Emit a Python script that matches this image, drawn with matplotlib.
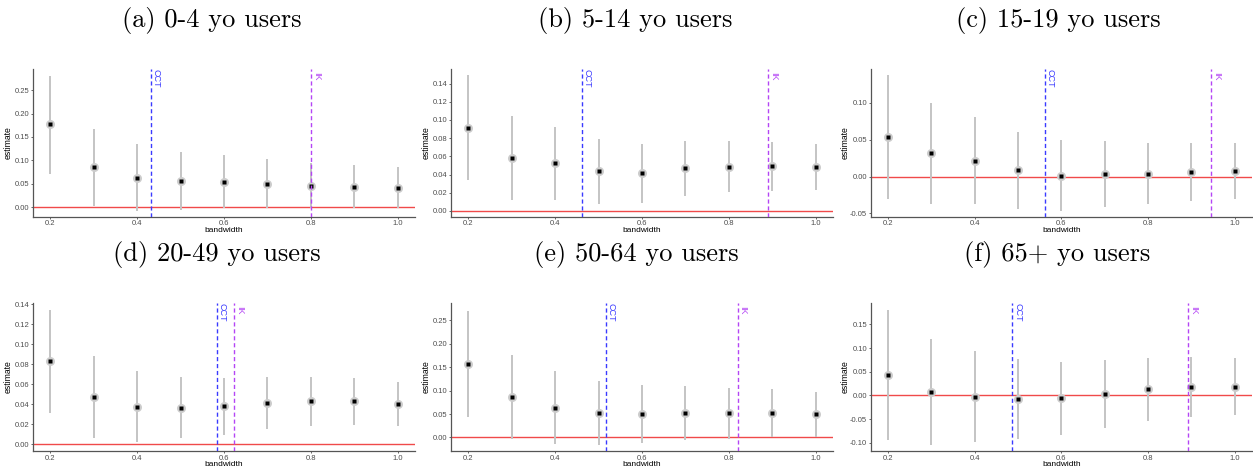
import matplotlib
matplotlib.use("Agg")
import matplotlib.pyplot as plt

bandwidth = [0.2, 0.3, 0.4, 0.5, 0.6, 0.7, 0.8, 0.9, 1.0]

titles = ["(a) 0-4 yo users", "(b) 5-14 yo users", "(c) 15-19 yo users",
          "(d) 20-49 yo users", "(e) 50-64 yo users", "(f) 65+ yo users"]

est_a = [0.177, 0.085, 0.063, 0.056, 0.054, 0.050, 0.046, 0.043, 0.041]
lo_a = [0.071, 0.003, -0.008, -0.006, -0.002, -0.002, -0.002, -0.002, -0.001]
hi_a = [0.281, 0.167, 0.134, 0.118, 0.111, 0.103, 0.095, 0.090, 0.086]

est_b = [0.0915, 0.0584, 0.0525, 0.0434, 0.0412, 0.0467, 0.0485, 0.0489, 0.0481]
lo_b = [0.0345, 0.0118, 0.0118, 0.0081, 0.0088, 0.0165, 0.0209, 0.0224, 0.0228]
hi_b = [0.1492, 0.1047, 0.0922, 0.0790, 0.0735, 0.0768, 0.0768, 0.0757, 0.0735]

est_c = [0.0534, 0.0321, 0.0217, 0.0086, 0.0014, 0.0032, 0.0041, 0.0063, 0.0077]
lo_c = [-0.0303, -0.0367, -0.0376, -0.0443, -0.0471, -0.0412, -0.0376, -0.0330, -0.0303]
hi_c = [0.137, 0.100, 0.0805, 0.0606, 0.0493, 0.0480, 0.0457, 0.0457, 0.0448]

est_d = [0.0837, 0.0470, 0.0377, 0.0367, 0.0380, 0.0413, 0.0433, 0.0430, 0.0400]
lo_d = [0.0317, 0.0060, 0.0020, 0.0060, 0.0090, 0.0150, 0.0187, 0.0197, 0.0180]
hi_d = [0.1343, 0.0880, 0.0730, 0.0677, 0.0660, 0.0673, 0.0677, 0.0660, 0.0623]

est_e = [0.1566, 0.0864, 0.0632, 0.0527, 0.0499, 0.0513, 0.0513, 0.0527, 0.0499]
lo_e = [0.0435, -0.0028, -0.0147, -0.0154, -0.0126, -0.0063, -0.0028, 0.0014, 0.0007]
hi_e = [0.269, 0.1763, 0.1411, 0.1208, 0.1117, 0.1088, 0.1046, 0.1025, 0.0976]

est_f = [0.0437, 0.0070, -0.0028, -0.0077, -0.0063, 0.0035, 0.0127, 0.0183, 0.0183]
lo_f = [-0.0937, -0.1042, -0.0979, -0.0923, -0.0838, -0.0683, -0.0549, -0.0451, -0.0423]
hi_f = [0.181, 0.1183, 0.093, 0.0775, 0.0711, 0.0754, 0.0796, 0.0810, 0.0789]

cct_bw = [0.431, 0.462, 0.562, 0.584, 0.516, 0.487]
ik_bw = [0.800, 0.891, 0.946, 0.623, 0.820, 0.892]

yticks_list = [
    [0.00, 0.05, 0.10, 0.15, 0.20, 0.25],
    [0.00, 0.02, 0.04, 0.06, 0.08, 0.10, 0.12, 0.14],
    [-0.05, 0.00, 0.05, 0.10],
    [0.00, 0.02, 0.04, 0.06, 0.08, 0.10, 0.12, 0.14],
    [0.00, 0.05, 0.10, 0.15, 0.20, 0.25],
    [-0.10, -0.05, 0.00, 0.05, 0.10, 0.15],
]
ylims = [(-0.0207, 0.295), (-0.0066, 0.156), (-0.0548, 0.1457),
         (-0.007, 0.1417), (-0.0295, 0.2876), (-0.1183, 0.196)]

panels = [(est_a, lo_a, hi_a), (est_b, lo_b, hi_b), (est_c, lo_c, hi_c),
          (est_d, lo_d, hi_d), (est_e, lo_e, hi_e), (est_f, lo_f, hi_f)]

W, H = 1253, 470
fig = plt.figure(figsize=(W / 100, H / 100), dpi=100)

lefts = [33, 451, 870.7]
widths = [382, 382, 381.3]
rows = [(69, 217), (302.7, 451.3)]
title_x = [[212, 635, 1058], [217, 636, 1057]]
title_y = [20, 255]

tick_col = '#4d4d4d'
for i, (est, lo, hi) in enumerate(panels):
    r, c = divmod(i, 3)
    top, bot = rows[r]
    ax = fig.add_axes([lefts[c] / W, 1 - bot / H, widths[c] / W, (bot - top) / H])
    ax.set_xlim(0.16, 1.04)
    ax.set_ylim(*ylims[i])
    ax.axhline(0, color='#f04a4a', lw=1.0, zorder=1)
    ax.vlines(bandwidth, lo, hi, color='#c4c4c4', lw=1.4, zorder=2)
    ax.plot(bandwidth, est, 'o', ms=6.5, color='#cccccc', mec='none', zorder=3)
    ax.plot(bandwidth, est, 's', ms=2.4, color='black', mec='none', zorder=4)
    ax.axvline(cct_bw[i], color='#3a3aff', lw=1.0, ls=(0, (3, 2)), zorder=5)
    ax.axvline(ik_bw[i], color='#b445f5', lw=1.0, ls=(0, (3, 2)), zorder=5)
    y0, y1 = ylims[i]
    ax.text(cct_bw[i] + 0.002, y1, 'CCT', rotation=-90, color='#3a3aff',
            fontsize=6.5, ha='left', va='top', family='Liberation Sans')
    ax.text(ik_bw[i] + 0.002, y1 - (y1 - y0) * 0.02, 'IK', rotation=-90, color='#b445f5',
            fontsize=6.5, ha='left', va='top', family='Liberation Sans')
    ax.set_xticks([0.2, 0.4, 0.6, 0.8, 1.0])
    ax.set_xticklabels(['0.2', '0.4', '0.6', '0.8', '1.0'])
    ax.set_yticks(yticks_list[i])
    ax.set_yticklabels([f'{v:.2f}' for v in yticks_list[i]])
    ax.tick_params(labelsize=5.5, colors=tick_col, length=1.5, width=0.6, pad=1.0)
    for lab in ax.get_xticklabels() + ax.get_yticklabels():
        lab.set_family('Liberation Sans')
    for s in ['top', 'right']:
        ax.spines[s].set_visible(False)
    for s in ['left', 'bottom']:
        ax.spines[s].set_color('#555555')
        ax.spines[s].set_linewidth(0.9)
    ax.set_xlabel('bandwidth', fontsize=6.0, family='Liberation Sans')
    ax.set_ylabel('estimate', fontsize=6.2, family='Liberation Sans')
    ax.xaxis.set_label_coords(0.5, -0.068)
    ax.yaxis.set_label_coords(-0.054, 0.5)
    fig.text(title_x[r][c] / W, 1 - title_y[r] / H, titles[i], ha='center', va='center',
             fontsize=19, family='cmr10')

fig.savefig('out.png', dpi=100, facecolor='white')
